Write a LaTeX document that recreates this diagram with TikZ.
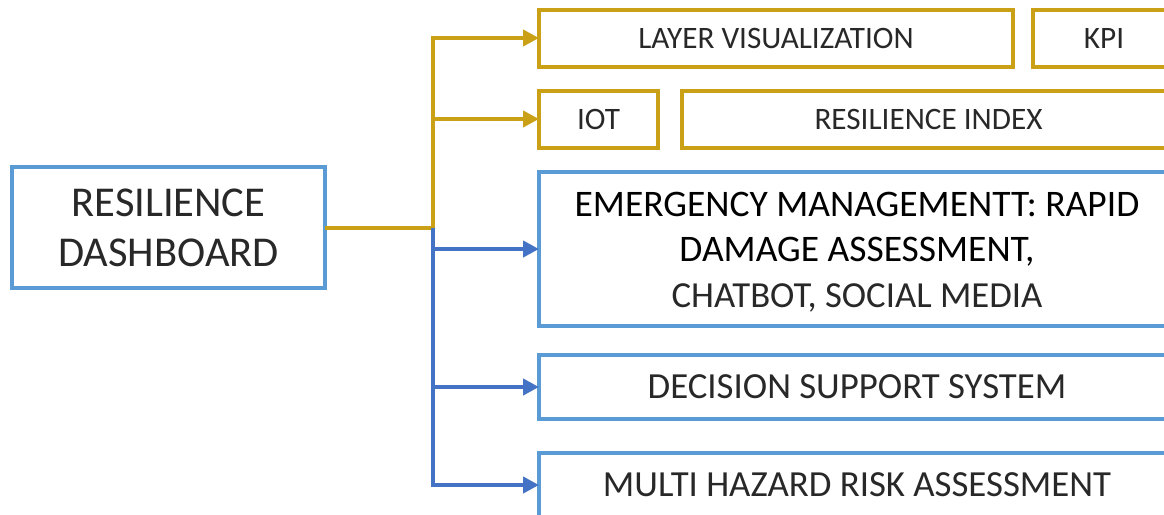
\documentclass[tikz,border=0pt]{standalone}
\usepackage{fontspec}
\setmainfont{Carlito}
\usetikzlibrary{arrows.meta}

\definecolor{goldline}{RGB}{201,160,22}
\definecolor{boxblue}{RGB}{91,155,213}
\definecolor{arrowblue}{RGB}{68,114,196}
\definecolor{lighttext}{RGB}{40,40,40}

\tikzset{
  framebox/.style={line width=4pt, fill=white, inner sep=0pt, outer sep=0pt, anchor=north west},
  goldbox/.style={framebox, draw=goldline},
  bluebox/.style={framebox, draw=boxblue},
  label/.style={inner sep=0pt, align=center, text=lighttext},
  goldlink/.style={draw=goldline, line width=4pt},
  goldarrow/.style={goldlink, -{Triangle[length=16pt,width=16pt]}},
  bluearrow/.style={draw=arrowblue, line width=4pt, -{Triangle[length=16pt,width=16pt]}},
}

\begin{document}
\begin{tikzpicture}[x=1pt,y=-1pt]
\useasboundingbox (0,0) rectangle (1164,514);
\clip (0,0) rectangle (1164,514);

% source box
\node[bluebox, minimum width=313pt, minimum height=121pt] (dash) at (12,167) {};
\node[label, font=\fontsize{42.5}{50}\selectfont] (dashtext) at (dash.center) {RESILIENCE\\DASHBOARD};

% gold row of targets
\node[goldbox, minimum width=474pt, minimum height=57pt] (layer) at (539,9.5) {};
\node[label, font=\fontsize{31.2}{36}\selectfont] (layertext) at (layer.center) {LAYER VISUALIZATION};
\node[goldbox, minimum width=142pt, minimum height=57pt] (kpi) at (1033,9.5) {};
\node[label, font=\fontsize{31.2}{36}\selectfont] (kpitext) at (kpi.center) {KPI};
\node[goldbox, minimum width=119pt, minimum height=57pt] (iot) at (539,90.5) {};
\node[label, font=\fontsize{31.2}{36}\selectfont] (iottext) at (iot.center) {IOT};
\node[goldbox, minimum width=493pt, minimum height=57pt] (rindex) at (682,90.5) {};
\node[label, font=\fontsize{31.2}{36}\selectfont] (rindextext) at (rindex.center) {RESILIENCE INDEX};

% blue targets
\node[bluebox, minimum width=636pt, minimum height=154pt] (emer) at (539,172) {};
\node[label, font=\fontsize{37.5}{45.5}\selectfont, yshift=-3pt] (emertext) at (emer.center)
  {\textcolor{black}{EMERGENCY MANAGEMENTT: RAPID}\\
   \textcolor{black}{DAMAGE ASSESSMENT,}\\
   {\fontsize{36.7}{45.5}\selectfont CHATBOT, SOCIAL MEDIA}};
\node[bluebox, minimum width=636pt, minimum height=64pt] (dss) at (539,355) {};
\node[label, font=\fontsize{36.8}{43}\selectfont] (dsstext) at (dss.center) {DECISION SUPPORT SYSTEM};
\node[bluebox, minimum width=636pt, minimum height=64pt] (mhra) at (539,453) {};
\node[label, font=\fontsize{36.8}{43}\selectfont] (mhratext) at (mhra.center) {MULTI HAZARD RISK ASSESSMENT};

% connectors
\coordinate (fork) at (dash.east -| 433,0);
\draw[goldlink] (dash.east) -- (fork);
\draw[goldarrow] (fork) |- (layer.west);
\draw[goldarrow] (fork) |- (iot.west);
\draw[bluearrow] (fork) |- (emer.west);
\draw[bluearrow] (fork) |- (dss.west);
\draw[bluearrow] (fork) |- (mhra.west);
\end{tikzpicture}
\end{document}
